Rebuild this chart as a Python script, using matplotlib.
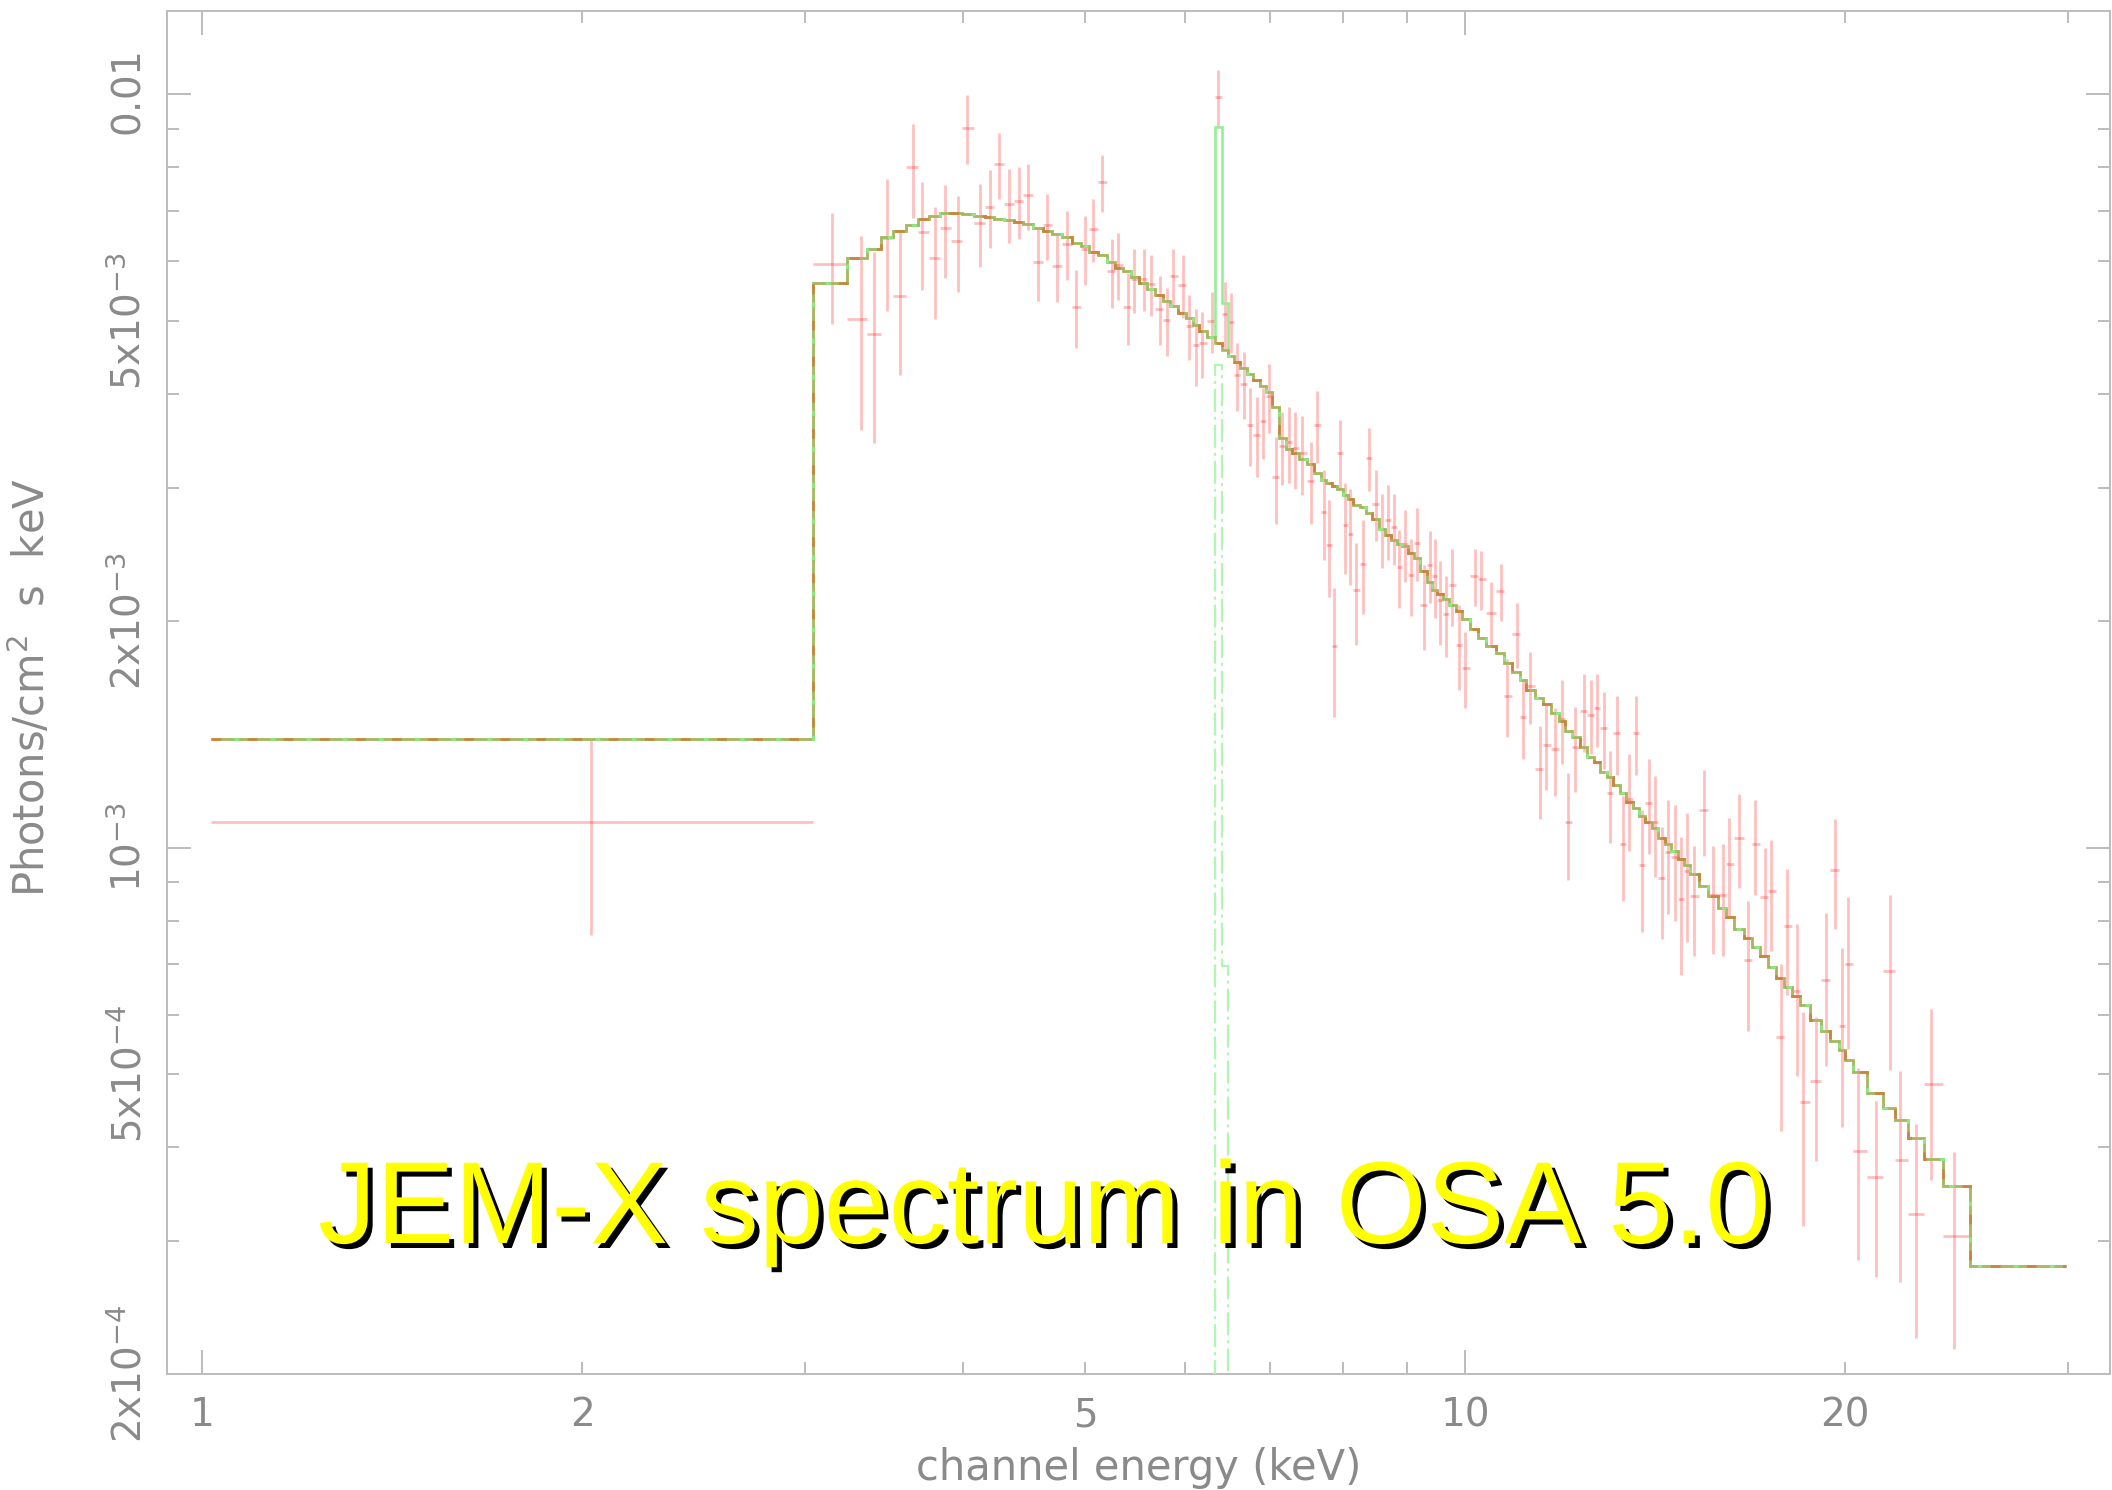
import numpy as np
import matplotlib
matplotlib.use("Agg")
import matplotlib.pyplot as plt
import matplotlib.patheffects as pe
from matplotlib.ticker import FixedLocator, FixedFormatter

plt.rcParams['lines.scale_dashes'] = False
plt.rcParams['font.family'] = ['DejaVu Sans']

# ---------------- data (flux in units of 1e-3 photons/cm2/s/keV) ----------------
flux_unit = 1e-3

first_chan_kev = [1.017, 3.047]
first_flux = 1.08
first_err = 0.315
first_model = 1.395

energy_kev = [
    3.155, 3.323, 3.403, 3.487, 3.567, 3.655, 3.717, 3.806, 3.871, 3.964,
    4.035, 4.131, 4.202, 4.276, 4.355, 4.430, 4.508, 4.591, 4.670, 4.753,
    4.840, 4.923, 4.998, 5.075, 5.159, 5.254, 5.315, 5.410,
    5.470, 5.570, 5.635, 5.732, 5.802, 5.873, 5.974, 6.047, 6.121, 6.193,
    6.299, 6.377, 6.454, 6.531, 6.599, 6.680, 6.753, 6.836, 6.919, 6.995,
    7.080, 7.162, 7.254, 7.329, 7.432, 7.546, 7.638, 7.732, 7.800, 7.880,
    7.957, 8.040, 8.113, 8.202, 8.302, 8.393, 8.496, 8.600, 8.689, 8.780,
    8.870, 8.957, 9.055, 9.161, 9.275,
    9.376, 9.462, 9.549, 9.652, 9.770, 9.890, 10.005, 10.177, 10.301, 10.478,
    10.670, 10.794, 10.992, 11.113, 11.249, 11.456, 11.589, 11.788, 11.932, 12.070,
    12.218, 12.420, 12.572, 12.717, 12.873, 13.022, 13.182, 13.335, 13.489, 13.646,
    13.804, 13.973, 14.135, 14.316, 14.474, 14.650, 14.811, 14.983, 15.166, 15.445,
    15.709, 16.000, 16.176, 16.480,
    16.75, 16.96, 17.27, 17.48, 17.78, 17.99, 18.31, 18.51, 18.97, 19.29,
    19.64, 19.88, 20.10, 20.47, 21.16, 21.70, 22.08, 22.73, 23.40, 24.36,
]

flux = [
    5.95, 5.03, 4.81, 6.44, 5.40, 8.00, 6.57, 6.06, 6.64, 6.39,
    9.03, 6.75, 7.09, 8.07, 7.15, 7.22, 7.35, 5.98, 6.70, 5.92,
    6.33, 5.22, 6.24, 6.62, 7.64, 5.82, 5.94, 5.22,
    5.68, 5.69, 5.60, 5.19, 5.01, 5.73, 5.58, 4.93, 4.64, 4.67,
    5.00, 9.91, 5.11, 4.99, 4.24, 4.13, 3.64, 3.53, 3.68, 3.97,
    3.10, 3.41, 3.45, 3.39, 3.34, 3.07, 3.64, 2.79, 2.52, 1.85,
    3.34, 2.68, 2.61, 2.20, 2.38, 3.29, 2.86, 2.65, 2.72, 2.66,
    2.36, 2.53, 2.30, 2.54, 2.10,
    2.37, 2.29, 2.13, 2.04, 2.23, 1.86, 1.73, 2.29, 2.27, 2.05,
    2.19, 1.59, 1.92, 1.49, 1.64, 1.27, 1.37, 1.35, 1.48, 1.08,
    1.36, 1.52, 1.50, 1.53, 1.44, 1.18, 1.42, 1.01, 1.16, 1.42,
    0.947, 1.146, 1.08, 0.91, 0.985, 0.97, 0.855, 0.93, 0.862, 1.12,
    0.864, 0.864, 0.95, 1.03,
    0.71, 1.01, 0.86, 0.875, 0.56, 0.787, 0.644, 0.459, 0.49, 0.666,
    0.935, 0.58, 0.70, 0.396, 0.365, 0.686, 0.385, 0.326, 0.486, 0.305,
]

flux_err = [
    1.00, 1.45, 1.37, 1.29, 1.16, 1.14, 1.07, 1.03, 0.94, 0.93,
    0.95, 0.85, 0.84, 0.81, 0.81, 0.79, 0.74, 0.66, 0.68, 0.62,
    0.66, 0.62, 0.66, 0.63, 0.67, 0.61, 0.60, 0.57,
    0.56, 0.54, 0.525, 0.54, 0.52, 0.50, 0.54, 0.49, 0.54, 0.47,
    0.47, 0.86, 0.53, 0.45, 0.44, 0.425, 0.43, 0.43, 0.40, 0.42,
    0.41, 0.38, 0.40, 0.40, 0.40, 0.38, 0.40, 0.38, 0.37, 0.36,
    0.36, 0.37, 0.38, 0.34, 0.34, 0.32, 0.31, 0.30, 0.31, 0.29,
    0.28, 0.28, 0.27, 0.28, 0.27,
    0.26, 0.275, 0.27, 0.25, 0.26, 0.24, 0.20, 0.20, 0.205, 0.20,
    0.19, 0.19, 0.19, 0.18, 0.18, 0.18, 0.176, 0.18, 0.19, 0.174,
    0.175, 0.18, 0.17, 0.17, 0.17, 0.165, 0.17, 0.16, 0.17, 0.17,
    0.175, 0.165, 0.165, 0.155, 0.17, 0.17, 0.177, 0.18, 0.144, 0.146,
    0.142, 0.147, 0.144, 0.147,
    0.14, 0.146, 0.14, 0.147, 0.14, 0.15, 0.147, 0.145, 0.106, 0.153,
    0.155, 0.155, 0.16, 0.113, 0.096, 0.18, 0.12, 0.103, 0.124, 0.089,
]

# continuum model per channel
cont_model = [
    5.62, 6.06, 6.23, 6.46, 6.58, 6.71, 6.83, 6.90, 6.95, 6.95,
    6.93, 6.90, 6.88, 6.83, 6.81, 6.77, 6.73, 6.64, 6.58, 6.52,
    6.46, 6.35, 6.29, 6.17, 6.12, 5.99, 5.88, 5.83,
    5.72, 5.62, 5.52, 5.41, 5.32, 5.23, 5.12, 5.04, 4.94, 4.85,
    4.76, 4.67, 4.58, 4.50, 4.41, 4.33, 4.25, 4.18, 4.10, 4.03,
    3.85, 3.50, 3.38, 3.34, 3.28, 3.23, 3.14, 3.08, 3.05, 3.02,
    2.99, 2.94, 2.90, 2.85, 2.83, 2.78, 2.73, 2.65, 2.60, 2.56,
    2.53, 2.51, 2.46, 2.42, 2.33,
    2.25, 2.20, 2.17, 2.14, 2.10, 2.06, 2.01, 1.95, 1.90, 1.85,
    1.815, 1.76, 1.71, 1.67, 1.62, 1.58, 1.55, 1.51, 1.47, 1.43,
    1.40, 1.36, 1.32, 1.30, 1.26, 1.24, 1.21, 1.18, 1.15, 1.13,
    1.10, 1.08, 1.06, 1.03, 1.01, 0.99, 0.966, 0.948, 0.922, 0.889,
    0.862, 0.831, 0.808, 0.780,
    0.759, 0.738, 0.718, 0.693, 0.671, 0.652, 0.635, 0.618, 0.590, 0.570,
    0.554, 0.539, 0.522, 0.503, 0.472, 0.451, 0.435, 0.411, 0.3855, 0.355,
]

# Gaussian (Fe line) component: channels and values
line_chan_kev = [6.377, 6.454]
line_model = [4.376, 0.696]

last_chan_kev = [25.08, 29.92]
last_model = 0.2786

x_label_values = [1, 2, 5, 10, 20]
x_label_text = ['1', '2', '5', '10', '20']
y_label_values = [2e-4, 5e-4, 1e-3, 2e-3, 5e-3, 1e-2]
y_label_text = [r'$2\mathrm{x}10^{-4}$', r'$5\mathrm{x}10^{-4}$', r'$10^{-3}$',
                r'$2\mathrm{x}10^{-3}$', r'$5\mathrm{x}10^{-3}$', r'$0.01$']

title_text = 'JEM-X spectrum in OSA 5.0'
xlabel_text = 'channel energy (keV)'
ylabel_text = r'Photons/cm$^2$  s  keV'

# ---------------- derived arrays ----------------
E = np.array(energy_kev)
inner = np.sqrt(E[:-1] * E[1:])
edges = np.concatenate([first_chan_kev, inner, last_chan_kev])

cont_all = np.concatenate([[first_model], cont_model, [last_model]]) * flux_unit
line_all = np.zeros_like(cont_all)
line_idx = [int(np.argmin(np.abs(E - e))) + 1 for e in line_chan_kev]
for i, v in zip(line_idx, line_model):
    line_all[i] = v * flux_unit
total_all = cont_all + line_all

n_data = len(E) + 1
xc = np.concatenate([[np.mean(first_chan_kev)], E])
yc = np.concatenate([[first_flux], flux]) * flux_unit
ye = np.concatenate([[first_err], flux_err]) * flux_unit
xlo = xc - edges[:n_data]
xhi = edges[1:n_data + 1] - xc

# ---------------- figure ----------------
W, H = 2112, 1490
fig = plt.figure(figsize=(W / 100, H / 100), dpi=100)
L, R, T, B = 167, 2110, 11, 1374
ax = fig.add_axes([L / W, 1 - B / H, (R - L) / W, (B - T) / H])
ax.set_xscale('log')
ax.set_yscale('log')

# data
ax.errorbar(xc, yc, yerr=ye, xerr=[xlo, xhi], fmt='none',
            ecolor=(1.0, 0.0, 0.0, 0.25), elinewidth=2.0, capsize=0, zorder=2)

# Gaussian line component (dash-dot)
i0 = line_idx[0]
ax.stairs(np.array(line_model) * flux_unit, edges[i0:i0 + 3], baseline=1e-7,
          color='#b3f5b3', lw=1.6, ls=(0, (16.5, 3.6, 2.2, 3.6)), zorder=3)

# total model (green) and continuum (olive / brown / green dashes)
ax.stairs(total_all, edges, baseline=None, color='#96ee96', lw=1.9, zorder=4)
ax.stairs(cont_all, edges, baseline=None, color='#abb45e', lw=1.9, zorder=5)
ax.stairs(cont_all, edges, baseline=None, color='#c98540', lw=1.9,
          ls=(0, (7, 19)), zorder=6)
ax.stairs(cont_all, edges, baseline=None, color='#86ec86', lw=1.9,
          ls=(9.5, (3.5, 22.5)), zorder=7)

ax.set_xlim(0.938, 32.4)
ax.set_ylim(2.0e-4, 0.0129)

# ticks
def lab_for(vals, lvals, ltext):
    out = []
    for v in vals:
        s = ''
        for lv, lt in zip(lvals, ltext):
            if np.isclose(v, lv):
                s = lt
        out.append(s)
    return out

x_major = [1, 10]
x_minor = [2, 3, 4, 5, 6, 7, 8, 9, 20, 30]
y_major = [1e-3, 1e-2]
y_minor = [m * 1e-4 for m in range(2, 10)] + [m * 1e-3 for m in range(2, 10)]

ax.xaxis.set_major_locator(FixedLocator(x_major))
ax.xaxis.set_minor_locator(FixedLocator(x_minor))
ax.xaxis.set_major_formatter(FixedFormatter(lab_for(x_major, x_label_values, x_label_text)))
ax.xaxis.set_minor_formatter(FixedFormatter(lab_for(x_minor, x_label_values, x_label_text)))
ax.yaxis.set_major_locator(FixedLocator(y_major))
ax.yaxis.set_minor_locator(FixedLocator(y_minor))
ax.yaxis.set_major_formatter(FixedFormatter(lab_for(y_major, y_label_values, y_label_text)))
ax.yaxis.set_minor_formatter(FixedFormatter(lab_for(y_minor, y_label_values, y_label_text)))

axis_gray = '#bdbdbd'
text_gray = '#8a8a8a'
ax.tick_params(which='both', direction='in', top=True, right=True,
               color=axis_gray, width=1.45, labelcolor=text_gray, labelsize=28)
ax.tick_params(which='major', length=17)
ax.tick_params(which='minor', length=8.3)
ax.tick_params(axis='x', which='both', pad=16)
ax.tick_params(axis='y', which='both', pad=13, labelrotation=90)
for lab in ax.get_yticklabels(which='both'):
    lab.set_verticalalignment('center')
    lab.set_horizontalalignment('right')

for sp in ax.spines.values():
    sp.set_color(axis_gray)
    sp.set_linewidth(1.45)

fig.text((L + R) / 2 / W, 1 - 1480 / H, xlabel_text, fontsize=30, color=text_gray,
         ha='center', va='baseline')
fig.text(45 / W, 1 - 688 / H, ylabel_text, fontsize=30, color=text_gray,
         rotation=90, rotation_mode='anchor', ha='center', va='baseline')

fig.text(318 / W, 1 - 1243 / H, title_text, fontsize=84,
         family=['Liberation Sans', 'DejaVu Sans'], color='#ffff00',
         ha='left', va='baseline', zorder=20,
         path_effects=[pe.withSimplePatchShadow(offset=(3.6, -3.6),
                                                shadow_rgbFace='black', alpha=1.0)])

fig.savefig('out.png', dpi=100)
